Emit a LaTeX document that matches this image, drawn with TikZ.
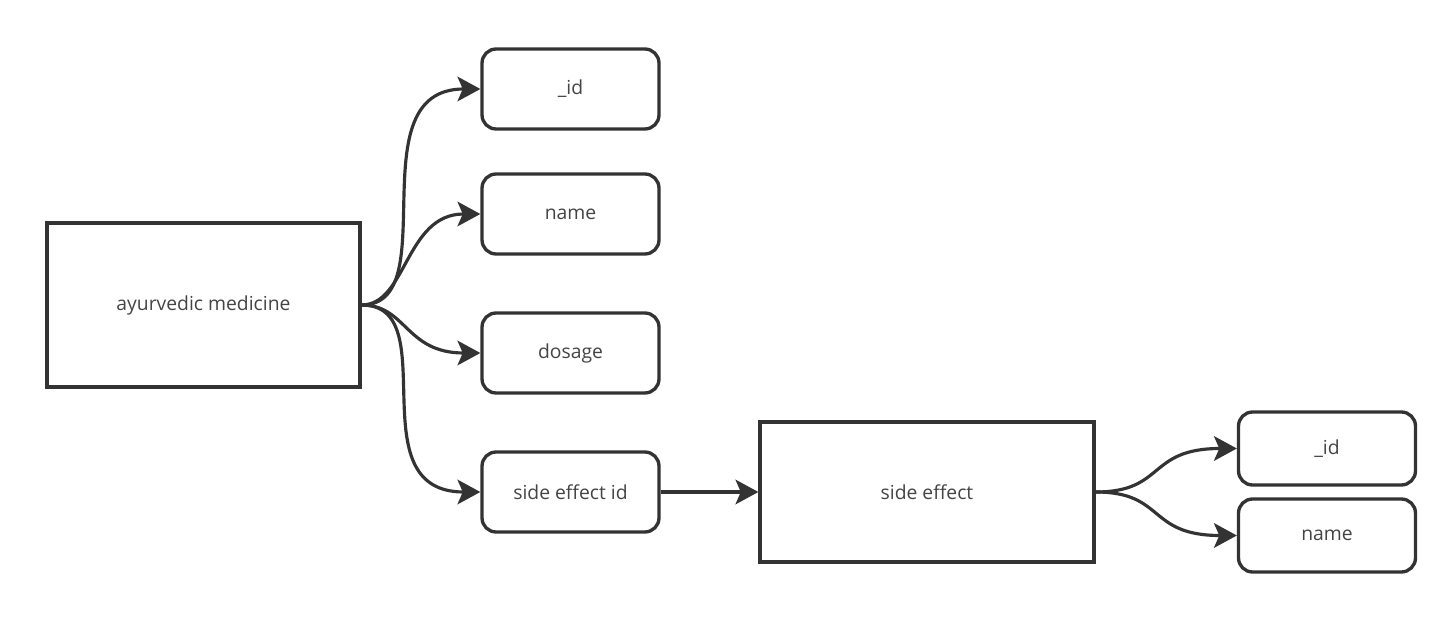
\documentclass[tikz,border=0pt]{standalone}
\usepackage{fontspec}
\setmainfont{Open Sans}
\usepackage{xcolor}
\usetikzlibrary{arrows.meta, positioning}
\definecolor{edgegray}{HTML}{333333}
\definecolor{textgray}{HTML}{444444}

\begin{document}
\begin{tikzpicture}[x=0.02cm, y=-0.02cm,
    entity/.style={draw=edgegray, line width=1.9pt, rectangle, text=textgray, inner sep=0pt},
    attr/.style={draw=edgegray, line width=1.9pt, rounded corners=8pt, text=textgray,
        minimum width=3.54cm, minimum height=1.6cm, inner sep=0pt},
    link/.style={draw=edgegray, line width=1.8pt, -{Stealth[length=13pt, width=14pt, inset=3pt]}},
    font=\fontsize{11}{13}\selectfont]
\useasboundingbox (0,0) rectangle (1454,621);

% Medicine and its fields
\node[entity, minimum width=6.26cm, minimum height=3.28cm] (med) at (203.5,305) {ayurvedic medicine};
\node[attr] (medid) at (570.5,89) {\_id};
\node[attr] (medname) at (570.5,214) {name};
\node[attr] (dosage) at (570.5,353) {dosage};
\node[attr] (seid) at (570.5,492) {side effect id};

% Side effect and its fields
\node[entity, minimum width=6.68cm, minimum height=2.8cm] (se) at (927,492) {side effect};
\node[attr, minimum height=1.46cm] (sefid) at (1327,448.5) {\_id};
\node[attr, minimum height=1.46cm] (sename) at (1327,535.5) {name};

% Connectors
\draw[link] (med.east) .. controls +(85,0) and +(-125,0) .. (medid.west);
\draw[link] (med.east) .. controls +(45,0) and +(-75,0) .. (medname.west);
\draw[link] (med.east) .. controls +(45,0) and +(-75,0) .. (dosage.west);
\draw[link] (med.east) .. controls +(85,0) and +(-125,0) .. (seid.west);
\draw[link] (seid.east) -- (se.west);
\draw[link] (se.east) .. controls +(70,0) and +(-90,0) .. (sefid.west);
\draw[link] (se.east) .. controls +(70,0) and +(-90,0) .. (sename.west);
\end{tikzpicture}
\end{document}
